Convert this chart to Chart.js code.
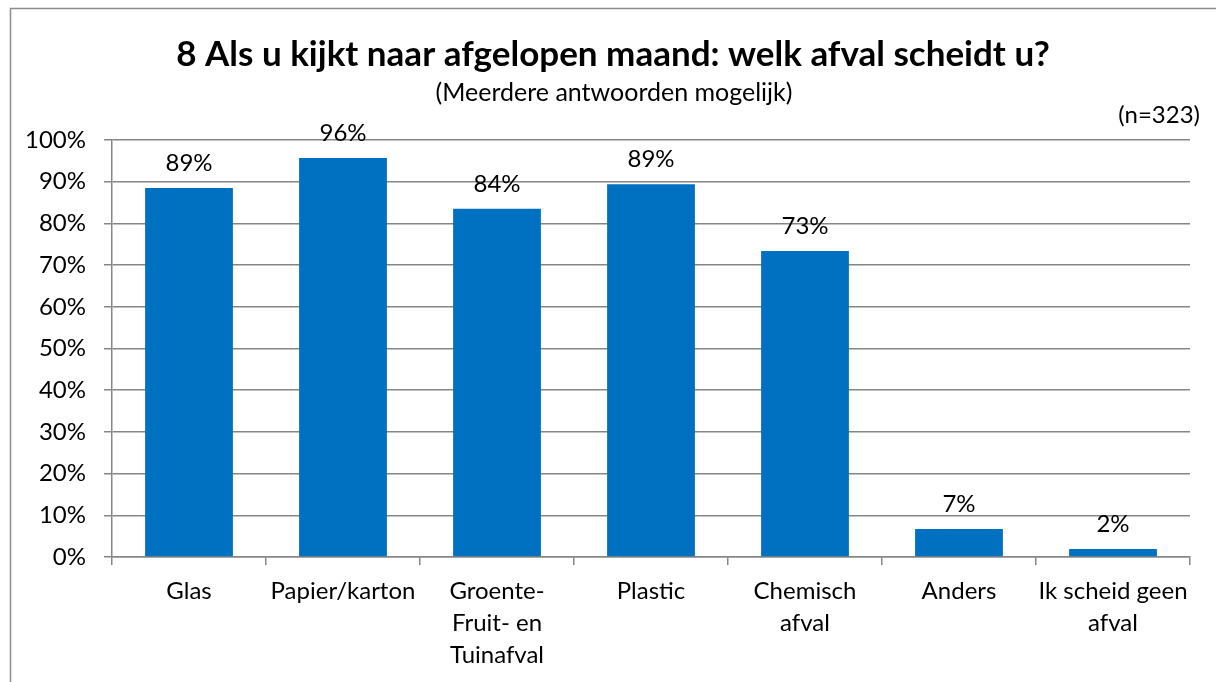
<!DOCTYPE html>
<html>
<head>
<meta charset="utf-8">
<script src="https://cdn.jsdelivr.net/npm/chart.js@4"></script>
<style>
  html, body { margin: 0; padding: 0; background: #fff; }
  #wrap { width: 1216px; height: 682px; }
</style>
</head>
<body>
<div id="wrap"><canvas id="barChart" width="1216" height="682"></canvas></div>
<script>
const categories = ['Glas', 'Papier/karton', ['Groente-', 'Fruit- en', 'Tuinafval'],
    'Plastic', ['Chemisch', 'afval'], 'Anders', ['Ik scheid geen', 'afval']];
const values = [88.5, 95.7, 83.5, 89.4, 73.4, 6.7, 1.9];
const valueLabels = ['89%', '96%', '84%', '89%', '73%', '7%', '2%'];
const yTicks = [0, 10, 20, 30, 40, 50, 60, 70, 80, 90, 100];

const titleText = '8 Als u kijkt naar afgelopen maand: welk afval scheidt u?';
const subtitleText = '(Meerdere antwoorden mogelijk)';
const sampleText = '(n=323)';

const FONT = 'Lato, "Open Sans", sans-serif';

document.addEventListener('DOMContentLoaded', function() {
    // frame, titles and value labels drawn by hand, like the excel export
    const decorations = {
        id: 'decorations',
        beforeDraw(chart) {
            const ctx = chart.ctx;
            ctx.save();
            ctx.fillStyle = '#ffffff';
            ctx.fillRect(0, 0, chart.width, chart.height);
            ctx.strokeStyle = '#8c8c8c';
            ctx.lineWidth = 1.5;
            ctx.beginPath();
            ctx.moveTo(10.5, chart.height);
            ctx.lineTo(10.5, 8.5);
            ctx.lineTo(chart.width, 8.5);
            ctx.stroke();
            ctx.restore();
        },
        afterDatasetsDraw(chart) {
            const ctx = chart.ctx;
            ctx.save();
            ctx.fillStyle = '#000';
            ctx.textAlign = 'center';
            ctx.textBaseline = 'middle';
            ctx.font = '24px ' + FONT;
            chart.getDatasetMeta(0).data.forEach((bar, i) => {
                ctx.fillText(valueLabels[i], bar.x, bar.y - 25);
            });

            ctx.font = 'bold 35px ' + FONT;
            ctx.fillText(titleText, 613, 55);
            ctx.font = '25px ' + FONT;
            ctx.fillText(subtitleText, 614, 93);
            ctx.font = '24px ' + FONT;
            ctx.textAlign = 'right';
            ctx.fillText(sampleText, 1200, 115);
            ctx.restore();
        }
    };

    new Chart(document.getElementById('barChart').getContext('2d'), {
        type: 'bar',
        data: {
            labels: categories,
            datasets: [{
                data: values,
                backgroundColor: '#0070c0',
                borderWidth: 0,
                categoryPercentage: 1,
                barPercentage: 0.57
            }]
        },
        options: {
            responsive: false,
            animation: false,
            layout: { padding: { left: 0, top: 140, right: 26, bottom: 0 } },
            plugins: {
                legend: { display: false },
                tooltip: { enabled: false }
            },
            scales: {
                x: {
                    afterFit(scale) { scale.height = 125; },
                    grid: {
                        offset: true,
                        drawOnChartArea: false,
                        tickLength: 8,
                        color: '#868686',
                        lineWidth: 1.5
                    },
                    border: { color: '#868686', width: 1.5 },
                    ticks: {
                        color: '#000',
                        font: { family: FONT, size: 24, lineHeight: 1.33 },
                        padding: 10,
                        maxRotation: 0,
                        autoSkip: false
                    }
                },
                y: {
                    min: 0,
                    max: 100,
                    afterFit(scale) { scale.width = 112; },
                    afterBuildTicks(scale) {
                        scale.ticks = yTicks.map(v => ({ value: v }));
                    },
                    grid: {
                        color: '#868686',
                        lineWidth: 1.5,
                        tickLength: 8
                    },
                    border: { color: '#868686', width: 1.5 },
                    ticks: {
                        color: '#000',
                        font: { family: FONT, size: 24 },
                        padding: 18,
                        callback: v => v + '%'
                    }
                }
            }
        },
        plugins: [decorations]
    });
});
</script>
</body>
</html>
